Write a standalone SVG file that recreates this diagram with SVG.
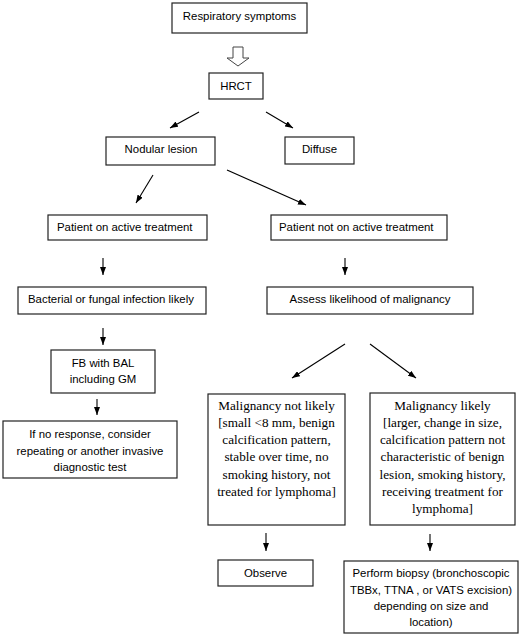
<svg xmlns="http://www.w3.org/2000/svg" width="520" height="637" viewBox="0 0 520 637">
<style>
.box{fill:#fff;stroke:#222;stroke-width:1.2}
.t{font-family:"Liberation Sans",Arial,sans-serif;font-size:11.4px;fill:#000}
.c{text-anchor:middle}
.s{font-family:"Liberation Serif","Times New Roman",serif;font-size:13.2px;fill:#000;text-anchor:middle}
.ln{stroke:#000;stroke-width:1.1;fill:none;marker-end:url(#ah)}
</style>
<defs>
<marker id="ah" viewBox="0 0 8 6" refX="8" refY="3" markerWidth="8" markerHeight="6" markerUnits="userSpaceOnUse" orient="auto">
<path d="M0,0 L8,3 L0,6 z" fill="#000"/>
</marker>
</defs>
<rect width="520" height="637" fill="#fff"/>
<g id="connectors">
<polygon points="233,47 243,47 243,58 249,58 238,66 227,58 233,58" fill="#fff" stroke="#444" stroke-width="1"/>
<line class="ln" x1="199" y1="112" x2="170" y2="128"/>
<line class="ln" x1="266" y1="112" x2="293" y2="128"/>
<line class="ln" x1="153" y1="175" x2="136" y2="203"/>
<line class="ln" x1="227" y1="170" x2="306" y2="205"/>
<line class="ln" x1="103" y1="258" x2="103" y2="275"/>
<line class="ln" x1="345" y1="258" x2="345" y2="275"/>
<line class="ln" x1="103" y1="328" x2="103" y2="345"/>
<line class="ln" x1="345" y1="344" x2="292" y2="378"/>
<line class="ln" x1="370" y1="344" x2="416" y2="378"/>
<line class="ln" x1="97" y1="399" x2="97" y2="415"/>
<line class="ln" x1="266" y1="533" x2="266" y2="551"/>
<line class="ln" x1="430" y1="534" x2="430" y2="551"/>
</g>
<g id="respiratory"><rect class="box" x="172" y="3" width="135" height="30"/><text class="t c" x="239.5" y="20">Respiratory symptoms</text></g>
<g id="hrct"><rect class="box" x="209" y="73" width="54" height="26"/><text class="t c" x="236" y="89.5">HRCT</text></g>
<g id="nodular"><rect class="box" x="106" y="137" width="109" height="28"/><text class="t c" x="161" y="152.5">Nodular lesion</text></g>
<g id="diffuse"><rect class="box" x="285" y="137" width="69" height="27"/><text class="t c" x="319.5" y="152.5">Diffuse</text></g>
<g id="on-treatment"><rect class="box" x="48" y="215" width="159" height="25"/><text class="t" x="57" y="231">Patient on active treatment</text></g>
<g id="not-on-treatment"><rect class="box" x="271" y="215" width="176" height="25"/><text class="t" x="279" y="231">Patient not on active treatment</text></g>
<g id="infection"><rect class="box" x="18" y="287" width="188" height="27"/><text class="t" x="28" y="303">Bacterial or fungal infection likely</text></g>
<g id="assess"><rect class="box" x="267" y="287" width="206" height="27"/><text class="t c" x="370" y="303">Assess likelihood of malignancy</text></g>
<g id="fb-bal"><rect class="box" x="51" y="350" width="104" height="43"/><text class="t c" x="103" y="367">FB with BAL</text><text class="t c" x="103" y="383">including GM</text></g>
<g id="no-response"><rect class="box" x="3" y="421" width="174" height="57"/><text class="t c" x="90" y="438">If no response, consider</text><text class="t c" x="90" y="454.5">repeating or another invasive</text><text class="t c" x="90" y="471">diagnostic test</text></g>
<g id="not-likely"><rect class="box" x="208" y="394" width="137" height="131"/>
<text class="s" x="276.5" y="409.5">Malignancy not likely</text>
<text class="s" x="276.5" y="426.8">[small &lt;8 mm, benign</text>
<text class="s" x="276.5" y="444.1">calcification pattern,</text>
<text class="s" x="276.5" y="461.4">stable over time, no</text>
<text class="s" x="276.5" y="478.7">smoking history, not</text>
<text class="s" x="276.5" y="496">treated for lymphoma]</text></g>
<g id="likely"><rect class="box" x="370" y="393" width="145" height="132"/>
<text class="s" x="442.5" y="409.5">Malignancy likely</text>
<text class="s" x="442.5" y="426.8">[larger, change in size,</text>
<text class="s" x="442.5" y="444.1">calcification pattern not</text>
<text class="s" x="442.5" y="461.4">characteristic of benign</text>
<text class="s" x="442.5" y="478.7">lesion, smoking history,</text>
<text class="s" x="442.5" y="496">receiving treatment for</text>
<text class="s" x="442.5" y="513.3">lymphoma]</text></g>
<g id="observe"><rect class="box" x="218" y="560" width="95" height="26"/><text class="t c" x="265.5" y="577">Observe</text></g>
<g id="biopsy"><rect class="box" x="344" y="561" width="174" height="72"/>
<text class="t c" x="431" y="577">Perform biopsy (bronchoscopic</text>
<text class="t c" x="431" y="593.5">TBBx, TTNA , or VATS excision)</text>
<text class="t c" x="431" y="610">depending on size and</text>
<text class="t c" x="431" y="626">location)</text></g>
</svg>
